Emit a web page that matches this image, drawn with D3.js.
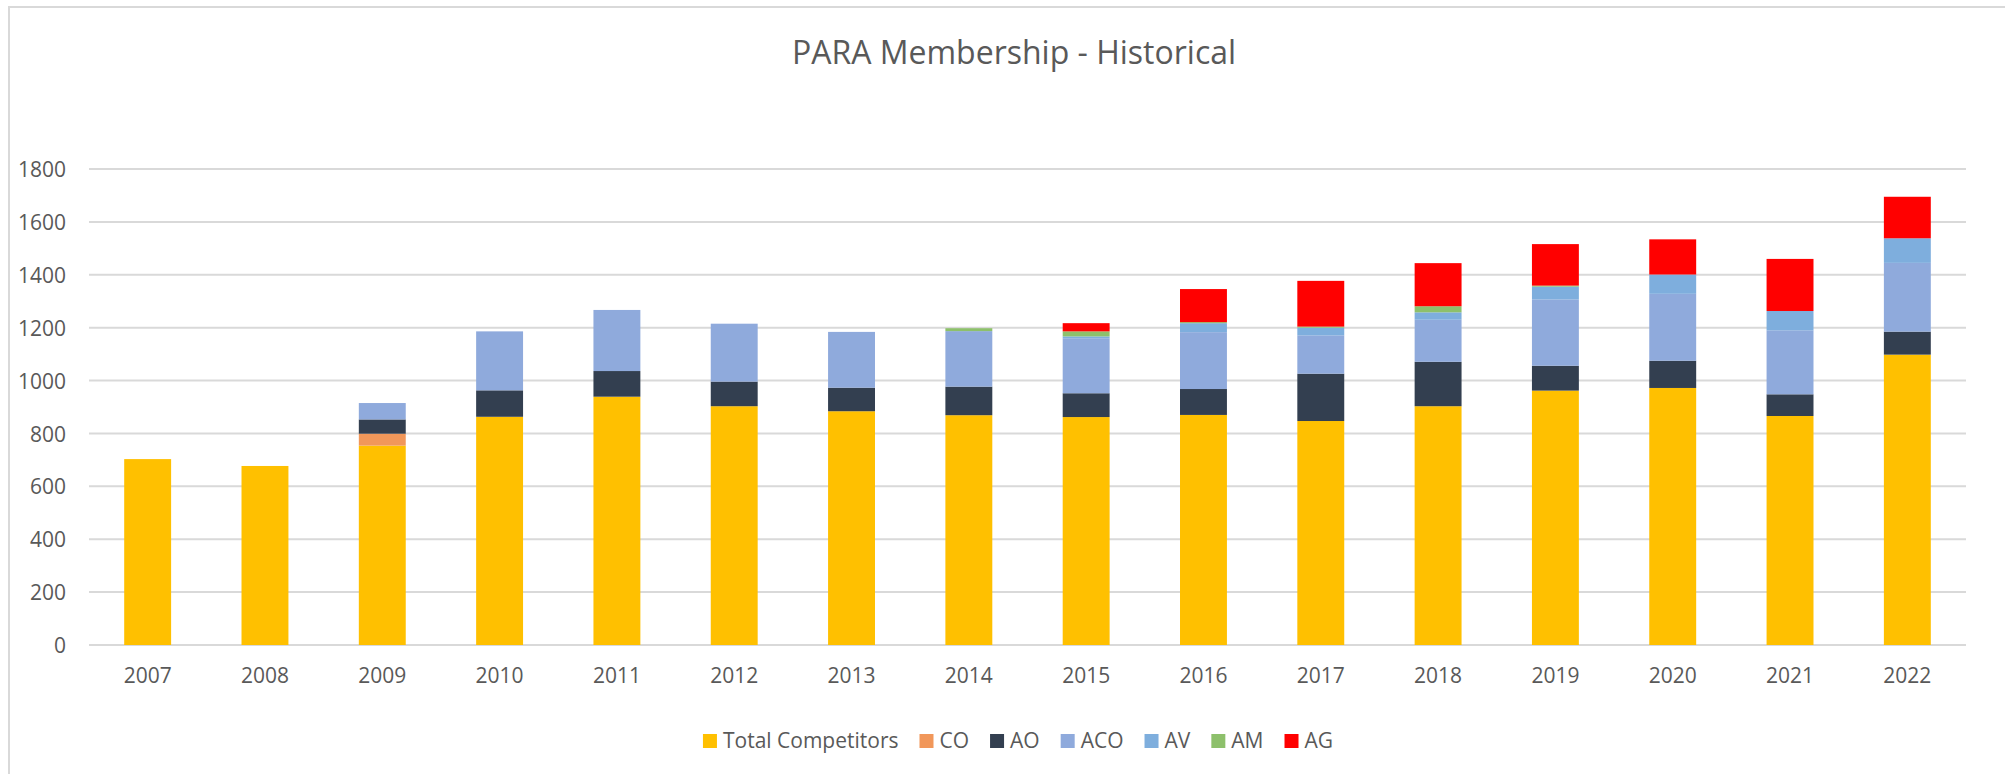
<!DOCTYPE html>
<html>
<head>
<meta charset="utf-8">
<title>PARA Membership - Historical</title>
<script src="https://cdn.jsdelivr.net/npm/d3@7"></script>
<style>
    body { margin: 0; background: #fff; }
    svg { display: block; font-family: "Open Sans", "Liberation Sans", sans-serif; }
    .axis-text { fill: #595959; font-size: 21px; font-family: "Open Sans", "Liberation Sans", sans-serif; }
    .legend-text { fill: #595959; font-size: 21px; }
</style>
</head>
<body>
<div id="chart"></div>
<script>
// Membership counts per year
const years = ['2007', '2008', '2009', '2010', '2011', '2012', '2013', '2014',
               '2015', '2016', '2017', '2018', '2019', '2020', '2021', '2022'];

const totalCompetitors = [703, 677, 754, 863, 939, 903, 884, 869, 862, 870, 847, 903, 962, 972, 866, 1098];
const co  = [0, 0, 45, 0, 0, 0, 0, 0, 0, 0, 0, 0, 0, 0, 0, 0];
const ao  = [0, 0, 54, 100, 97, 93, 89, 108, 90, 98, 179, 168, 94, 103, 82, 87];
const aco = [0, 0, 62, 223, 231, 219, 211, 210, 208, 215, 145, 159, 251, 253, 242, 260];
const av  = [0, 0, 0, 0, 0, 0, 0, 0, 7, 34, 29, 28, 48, 73, 73, 93];
const am  = [0, 0, 0, 0, 0, 0, 0, 11, 19, 4, 4, 23, 4, 0, 0, 0];
const ag  = [0, 0, 0, 0, 0, 0, 0, 0, 31, 125, 173, 163, 157, 133, 197, 157];

const seriesNames = ['Total Competitors', 'CO', 'AO', 'ACO', 'AV', 'AM', 'AG'];
const seriesValues = [totalCompetitors, co, ao, aco, av, am, ag];
const seriesColors = ['#FFC000', '#F1975A', '#333F50', '#8FAADC', '#7EAEDD', '#8DC06B', '#FF0000'];

const yTicks = [0, 200, 400, 600, 800, 1000, 1200, 1400, 1600, 1800];

const MembershipChart = {
    width: 2005,
    height: 774,
    plot: { left: 89, right: 1966, top: 169, bottom: 645 },

    render() {
        const svg = d3.select('#chart')
            .append('svg')
            .attr('width', this.width)
            .attr('height', this.height);

        // Chart area frame (only top/left edges fall inside the picture)
        svg.append('rect')
            .attr('x', 9)
            .attr('y', 7)
            .attr('width', 2040)
            .attr('height', 820)
            .attr('fill', '#fff')
            .attr('stroke', '#d9d9d9')
            .attr('stroke-width', 2);

        // Build table rows for d3.stack
        const rows = years.map((year, i) => {
            const row = { year };
            seriesNames.forEach((name, s) => { row[name] = seriesValues[s][i]; });
            return row;
        });
        const stacked = d3.stack().keys(seriesNames)(rows);

        // Scales
        const x = d3.scaleBand()
            .domain(years)
            .range([this.plot.left, this.plot.right])
            .paddingInner(0.6)
            .paddingOuter(0.3);

        const y = d3.scaleLinear()
            .domain([0, 1800])
            .range([this.plot.bottom, this.plot.top]);

        // Gridlines
        svg.append('g')
            .selectAll('line')
            .data(yTicks)
            .enter()
            .append('line')
            .attr('x1', this.plot.left)
            .attr('x2', this.plot.right)
            .attr('y1', d => y(d))
            .attr('y2', d => y(d))
            .attr('stroke', '#d9d9d9')
            .attr('stroke-width', 2);

        // Stacked bars
        svg.append('g')
            .selectAll('g')
            .data(stacked)
            .enter()
            .append('g')
            .attr('fill', (d, i) => seriesColors[i])
            .selectAll('rect')
            .data(d => d.filter(p => p[1] - p[0] > 0))
            .enter()
            .append('rect')
            .attr('x', d => x(d.data.year))
            .attr('width', x.bandwidth())
            .attr('y', d => y(d[1]))
            .attr('height', d => y(d[0]) - y(d[1]));

        // Y axis labels
        const yAxis = svg.append('g')
            .attr('transform', 'translate(66,0)')
            .call(d3.axisLeft(y).tickValues(yTicks).tickSize(0).tickPadding(0).tickFormat(d3.format('d')));
        yAxis.attr('font-family', null).attr('font-size', null);
        yAxis.select('.domain').remove();
        yAxis.selectAll('text')
            .attr('class', 'axis-text')
            .attr('fill', null)
            .attr('dy', '0.36em');

        // X axis labels
        const xAxis = svg.append('g')
            .attr('transform', `translate(0,${this.plot.bottom})`)
            .call(d3.axisBottom(x).tickSize(0).tickPadding(0));
        xAxis.attr('font-family', null).attr('font-size', null);
        xAxis.select('.domain').remove();
        xAxis.selectAll('text')
            .attr('class', 'axis-text')
            .attr('fill', null)
            .attr('dy', null)
            .attr('y', 38);

        // Title
        svg.append('text')
            .attr('x', 1014)
            .attr('y', 64)
            .attr('text-anchor', 'middle')
            .attr('font-size', '32px')
            .attr('fill', '#595959')
            .text('PARA Membership - Historical');

        // Legend, laid out left to right and then centred
        const legend = svg.append('g');
        let offset = 0;
        seriesNames.forEach((name, i) => {
            const item = legend.append('g').attr('transform', `translate(${offset},0)`);
            item.append('rect')
                .attr('x', 0)
                .attr('y', -14)
                .attr('width', 14)
                .attr('height', 14)
                .attr('fill', seriesColors[i]);
            const label = item.append('text')
                .attr('class', 'legend-text')
                .attr('x', 20)
                .attr('y', 0)
                .text(name);
            offset += 20 + label.node().getComputedTextLength() + 21;
        });
        const legendWidth = offset - 21;
        legend.attr('transform', `translate(${1018 - legendWidth / 2},748)`);
    }
};

MembershipChart.render();
</script>
</body>
</html>
